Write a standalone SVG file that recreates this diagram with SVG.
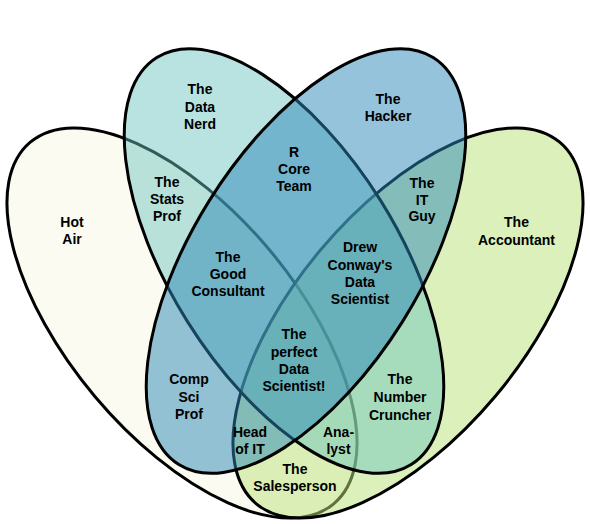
<svg xmlns="http://www.w3.org/2000/svg" width="590" height="524" viewBox="0 0 590 524">
  <style>
    .set { stroke: #000; stroke-width: 3; }
    .lbl { font-family: "Liberation Sans", Arial, sans-serif; font-size: 14px; font-weight: bold; fill: #000; text-anchor: middle; }
  </style>
  <rect width="590" height="524" fill="#fff"/>

  <!-- Four overlapping sets; drawing order sets which outlines show through -->
  <g id="sets">
    <ellipse id="set-hot-air" class="set" cx="182" cy="323" rx="236" ry="114" transform="rotate(50 182 323)" fill="#fbfbf1"/>
    <ellipse id="set-accountant" class="set" cx="408" cy="323" rx="236" ry="114" transform="rotate(-50 408 323)" fill="rgb(186,225,124)" fill-opacity="0.51"/>
    <ellipse id="set-data-nerd" class="set" cx="284" cy="261" rx="240" ry="114" transform="rotate(58 284 261)" fill="rgb(106,196,189)" fill-opacity="0.47"/>
    <ellipse id="set-hacker" class="set" cx="306" cy="261" rx="240" ry="114" transform="rotate(-58 306 261)" fill="rgb(43,135,183)" fill-opacity="0.5"/>
  </g>

  <g id="labels" class="lbl">
    <g id="hot-air"><text x="72" y="227">Hot</text><text x="72" y="244">Air</text></g>
    <g id="data-nerd"><text x="200" y="94">The</text><text x="200" y="111.5">Data</text><text x="200" y="129">Nerd</text></g>
    <g id="hacker"><text x="388" y="103.5">The</text><text x="388" y="120.5">Hacker</text></g>
    <g id="accountant"><text x="516.5" y="227">The</text><text x="516.5" y="244.5">Accountant</text></g>
    <g id="stats-prof"><text x="167" y="187">The</text><text x="167" y="204">Stats</text><text x="167" y="221">Prof</text></g>
    <g id="r-core-team"><text x="294" y="156.5">R</text><text x="294" y="173.5">Core</text><text x="294" y="191">Team</text></g>
    <g id="it-guy"><text x="422" y="187.5">The</text><text x="422" y="204.5">IT</text><text x="422" y="221">Guy</text></g>
    <g id="good-consultant"><text x="228" y="261.5">The</text><text x="228" y="279">Good</text><text x="228" y="296">Consultant</text></g>
    <g id="drew-conway"><text x="360" y="252">Drew</text><text x="360" y="269.5">Conway's</text><text x="360" y="287">Data</text><text x="360" y="304">Scientist</text></g>
    <g id="perfect-data-scientist"><text x="294" y="339">The</text><text x="294" y="356.5">perfect</text><text x="294" y="373.5">Data</text><text x="294" y="391">Scientist!</text></g>
    <g id="comp-sci-prof"><text x="189" y="384">Comp</text><text x="189" y="401.5">Sci</text><text x="189" y="419">Prof</text></g>
    <g id="number-cruncher"><text x="400" y="384">The</text><text x="400" y="402">Number</text><text x="400" y="419.5">Cruncher</text></g>
    <g id="head-of-it"><text x="250" y="436.5">Head</text><text x="250" y="454">of IT</text></g>
    <g id="analyst"><text x="338.5" y="436.5">Ana-</text><text x="338.5" y="454">lyst</text></g>
    <g id="salesperson"><text x="295" y="474">The</text><text x="295" y="490.5">Salesperson</text></g>
  </g>
</svg>
